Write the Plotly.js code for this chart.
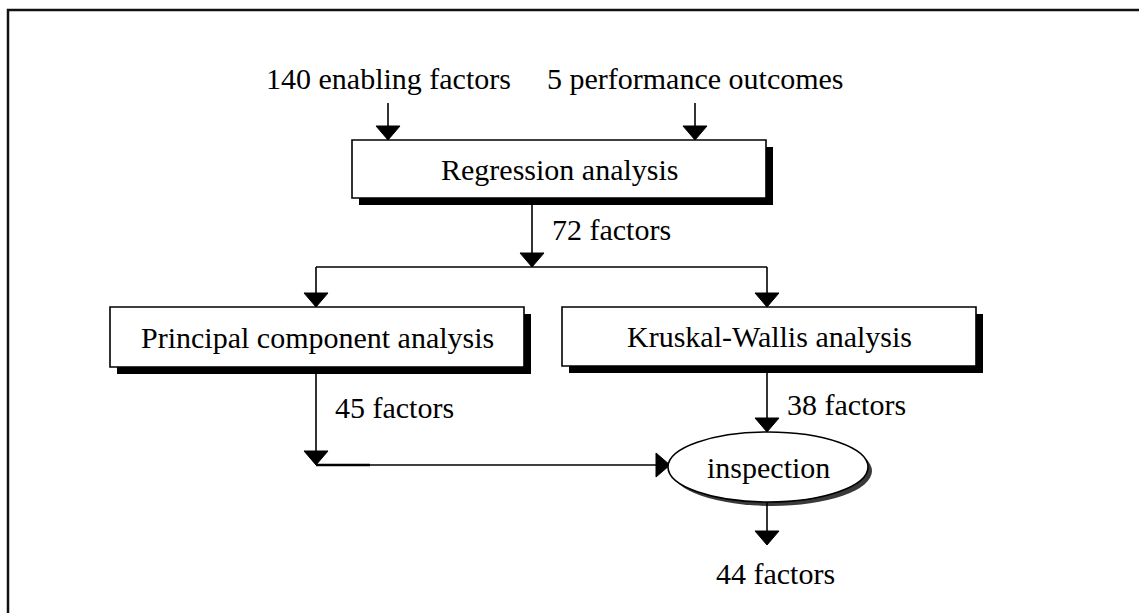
<!DOCTYPE html>
<html>
<head>
<meta charset="utf-8">
<script src="https://cdn.plot.ly/plotly-3.0.1.min.js"></script>
<style>html,body{margin:0;padding:0;background:#fff;}#chart{width:1139px;height:613px;}</style>
</head>
<body>
<div id="chart"></div>
<script>
// ---- content (labels and factor counts) ----
const inputLabels = ["140 enabling factors", "5 performance outcomes"];
const stepLabels = ["Regression analysis", "Principal component analysis", "Kruskal-Wallis analysis"];
const finalStepLabel = "inspection";
const flowCounts = [72, 45, 38, 44];   // after regression, PCA, Kruskal-Wallis, inspection
const countUnit = "factors";

// ---- diagram geometry (pixel space) ----
const G = {
  boxW: 414, boxH: 58, shadow: 7,
  reg: {x0: 352, y0: 140},
  pca: {x0: 110, y0: 307},
  kw:  {x0: 562, y0: 307},
  inputX: [388, 695], inputTextY: 78, inputArrowTop: 103,
  splitX: 532, splitY: 267, branchX: [316, 767],
  ell: {cx: 768, cy: 467, rx: 100, ry: 35, sh: 4},
  mergeY: 465, outTip: 545,
  ahW: 12, ahL: 14
};
const FONT = {family: "Liberation Serif, Times New Roman, serif", size: 30, color: "#000"};
const LW = 1.6;

const shapes = [];
const ann = [];
function line(x0,y0,x1,y1,w){shapes.push({type:'line',xref:'x',yref:'y',x0,y0,x1,y1,line:{color:'#000',width:w||LW}});}
function triDown(x,y){shapes.push({type:'path',xref:'x',yref:'y',path:`M ${x-G.ahW},${y-G.ahL} L ${x+G.ahW},${y-G.ahL} L ${x},${y} Z`,fillcolor:'#000',line:{color:'#000',width:1}});}
function triRight(x,y){shapes.push({type:'path',xref:'x',yref:'y',path:`M ${x-G.ahL},${y-G.ahW} L ${x-G.ahL},${y+G.ahW} L ${x},${y} Z`,fillcolor:'#000',line:{color:'#000',width:1}});}
function arrowDown(x,y0,y1){line(x,y0,x,y1-G.ahL+1);triDown(x,y1);}
function box(b,label,h){
  const x1=b.x0+G.boxW, y1=b.y0+h;
  shapes.push({type:'rect',xref:'x',yref:'y',x0:b.x0+G.shadow,y0:b.y0+G.shadow,x1:x1+G.shadow,y1:y1+G.shadow,fillcolor:'#000',line:{width:0}});
  shapes.push({type:'rect',xref:'x',yref:'y',x0:b.x0,y0:b.y0,x1:x1,y1:y1,fillcolor:'#fff',line:{color:'#000',width:LW}});
  ann.push({x:(b.x0+x1)/2,y:(b.y0+y1)/2,text:label,xanchor:'center',yanchor:'middle'});
  return {x1,y1};
}
function label(x,y,text,anchor){ann.push({x,y,text,xanchor:anchor||'center',yanchor:'middle'});}

// outer frame (cropped at right and bottom)
shapes.push({type:'rect',xref:'x',yref:'y',x0:8,y0:10,x1:1170,y1:650,line:{color:'#111',width:2.5}});

// inputs
inputLabels.forEach((t,i)=>{ label(G.inputX[i], G.inputTextY, t); arrowDown(G.inputX[i], G.inputArrowTop, G.reg.y0); });

// regression box
const r = box(G.reg, stepLabels[0], G.boxH);
arrowDown(G.splitX, r.y1, G.splitY);
label(550, 229, flowCounts[0] + " " + countUnit, 'left');
line(G.branchX[0], G.splitY, G.branchX[1], G.splitY);
arrowDown(G.branchX[0], G.splitY, G.pca.y0);
arrowDown(G.branchX[1], G.splitY, G.kw.y0);

// two analysis boxes
const p = box(G.pca, stepLabels[1], 60);
const k = box(G.kw, stepLabels[2], 59);

// PCA -> merge
arrowDown(G.branchX[0], p.y1, G.mergeY);
label(333, 407, flowCounts[1] + " " + countUnit, 'left');
const ellLeft = G.ell.cx - G.ell.rx;
line(G.branchX[0], G.mergeY, ellLeft - G.ahL + 2, G.mergeY);
line(G.branchX[0], G.mergeY, 370, G.mergeY, 2.6);
triRight(ellLeft + 2, G.mergeY);

// KW -> inspection
arrowDown(G.branchX[1], k.y1, G.ell.cy - G.ell.ry);
label(785, 404, flowCounts[2] + " " + countUnit, 'left');

// inspection ellipse with shadow
const e = G.ell;
shapes.push({type:'circle',xref:'x',yref:'y',x0:e.cx-e.rx+e.sh,y0:e.cy-e.ry+e.sh,x1:e.cx+e.rx+e.sh,y1:e.cy+e.ry+e.sh,fillcolor:'#3a3a3a',line:{width:0}});
shapes.push({type:'circle',xref:'x',yref:'y',x0:e.cx-e.rx,y0:e.cy-e.ry,x1:e.cx+e.rx,y1:e.cy+e.ry,fillcolor:'#fff',line:{color:'#000',width:LW}});
label(e.cx, e.cy, finalStepLabel);

// output
arrowDown(G.branchX[1], e.cy + e.ry, G.outTip);
label(775, 573, flowCounts[3] + " " + countUnit);

ann.forEach(a=>{a.xref='x';a.yref='y';a.showarrow=false;a.font=FONT;});

const layout = {
  width: 1139, height: 613,
  margin: {l:0,r:0,t:0,b:0},
  paper_bgcolor: '#fff', plot_bgcolor: '#fff',
  xaxis: {range:[0,1139], visible:false, fixedrange:true},
  yaxis: {range:[613,0], visible:false, fixedrange:true},
  showlegend: false,
  shapes: shapes,
  annotations: ann
};
Plotly.newPlot('chart', [{x:[],y:[],type:'scatter',mode:'markers',hoverinfo:'skip'}], layout, {displayModeBar:false, staticPlot:true});
</script>
</body>
</html>
